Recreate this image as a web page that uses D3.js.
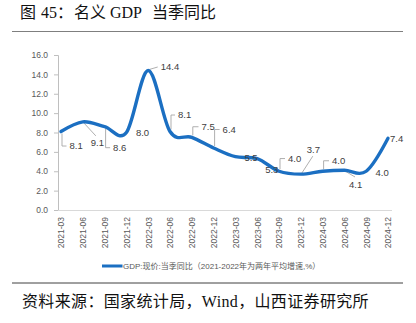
<!doctype html>
<html>
<head>
<meta charset="utf-8">
<title>名义 GDP 当季同比</title>
<script src="https://cdn.jsdelivr.net/npm/d3@7/dist/d3.min.js"></script>
<style>
  html, body { margin: 0; padding: 0; background: #fff; }
  svg { display: block; }
</style>
</head>
<body>
<div id="chart"></div>
<script>
  // quarters on the x axis
  var quarters = ["2021-03", "2021-06", "2021-09", "2021-12",
                  "2022-03", "2022-06", "2022-09", "2022-12",
                  "2023-03", "2023-06", "2023-09", "2023-12",
                  "2024-03", "2024-06", "2024-09", "2024-12"];
  // GDP nominal yoy, %
  var gdpYoY = [8.1, 9.1, 8.6, 8.0, 14.4, 8.1, 7.5, 6.4, 5.5, 5.3, 4.0, 3.7, 4.0, 4.1, 4.0, 7.4];
  var yTicks = [0, 2, 4, 6, 8, 10, 12, 14, 16];

  var titleParts = ["图", "45：", "名义", "GDP", "当季同比"];
  var legendText = "GDP:现价:当季同比（2021-2022年为两年平均增速,%）";
  var sourceText = "资料来源：国家统计局，Wind，山西证券研究所";

  // title pieces are spaced out like the original
  var titleX = [20, 41, 74, 110, 152];

  // where each data label sits relative to its point, and how it is tied back
  var labelLayout = [
    {dx: 8.5, dy: 14.5, leader: "bracket"},
    {dx: 8, dy: 21, leader: "diag", ex: 5, ey: -7},
    {dx: 8.5, dy: 21, leader: "bracket"},
    {dx: 9.5, dy: 0.5, leader: null},
    {dx: 12.5, dy: -3.5, leader: "diag", ex: -3, ey: 0},
    {dx: 8, dy: -16.5, leader: "bracket"},
    {dx: 9.7, dy: -10.6, leader: "bracket"},
    {dx: 9, dy: -18.5, leader: "bracket"},
    {dx: 9, dy: 1, leader: null},
    {dx: 8, dy: 11.5, leader: null},
    {dx: 9, dy: -12.7, leader: "bracket"},
    {dx: 6, dy: -24, leader: "diag", ex: 6, ey: 6},
    {dx: 9.4, dy: -10.5, leader: "bracket"},
    {dx: 4.6, dy: 14.7, leader: "diag", ex: 6, ey: -8},
    {dx: 9.3, dy: 1, leader: null},
    {dx: 2, dy: 0, leader: null}
  ];

  var W = 416, H = 323;
  var svg = d3.select("#chart").append("svg")
      .attr("width", W).attr("height", H);

  var labelFont = "'Liberation Sans Narrow', 'Liberation Sans', Arial, sans-serif";
  var serifCJK = "'Liberation Serif', 'Noto Sans CJK SC', serif";

  // title + rule
  svg.append("text")
      .attr("y", 17.5)
      .style("font-family", serifCJK)
      .style("font-size", "16px")
      .attr("fill", "#111")
    .selectAll("tspan")
      .data(titleParts)
      .join("tspan")
      .attr("x", function(d, i) { return titleX[i]; })
      .text(function(d) { return d; });
  svg.append("line")
      .attr("x1", 12).attr("x2", 403).attr("y1", 31.5).attr("y2", 31.5)
      .attr("stroke", "#7f7f7f").attr("stroke-width", 1.2);

  var x = d3.scalePoint().domain(quarters).range([61, 388]);
  var y = d3.scaleLinear().domain([0, 16]).range([210, 55]);

  // y axis
  var yAxis = svg.append("g")
      .attr("transform", "translate(58,0)")
      .call(d3.axisLeft(y).tickValues(yTicks).tickSize(4).tickPadding(6)
        .tickFormat(d3.format(".1f")));
  yAxis.select(".domain").attr("stroke", "#bfbfbf");
  yAxis.selectAll(".tick line").attr("stroke", "#bfbfbf");
  yAxis.selectAll("text")
      .style("font-family", labelFont).style("font-size", "8.5px")
      .attr("fill", "#595959");

  // x axis
  var xAxis = svg.append("g")
      .attr("transform", "translate(0,210)")
      .call(d3.axisBottom(x).tickSize(0).tickPadding(0));
  xAxis.select(".domain")
      .attr("d", "M58,0.5H392").attr("stroke", "#d9d9d9");
  xAxis.selectAll("text")
      .style("font-family", "'Liberation Sans', Arial, sans-serif").style("font-size", "8.5px")
      .attr("fill", "#595959")
      .attr("text-anchor", "end")
      .attr("dy", "0.35em")
      .attr("transform", "translate(0,7) rotate(-90)")
      .attr("x", 0).attr("y", 0);

  var pts = quarters.map(function(q, i) { return [x(q), y(gdpYoY[i])]; });

  // leader lines
  var leaderG = svg.append("g")
      .attr("stroke", "#a6a6a6").attr("stroke-width", 0.9).attr("fill", "none");
  labelLayout.forEach(function(l, i) {
    if (!l.leader) return;
    var px = pts[i][0], py = pts[i][1];
    var lx = px + l.dx, ly = py + l.dy;
    var path;
    if (l.leader === "bracket") {
      path = [[px + 1, py + (l.dy > 0 ? 2 : -2)], [px + 1, ly], [lx - 3, ly]];
    } else {
      path = [[px + 1, py + (l.ey < 0 ? 1 : -1)], [lx + l.ex, ly + l.ey]];
    }
    leaderG.append("path").attr("d", d3.line()(path));
  });

  // the smoothed line
  var line = d3.line()
      .x(function(d, i) { return x(quarters[i]); })
      .y(function(d) { return y(d); })
      .curve(d3.curveCardinal.tension(0));
  svg.append("path")
      .datum(gdpYoY)
      .attr("d", line)
      .attr("fill", "none")
      .attr("stroke", "#1b6fc2")
      .attr("stroke-width", 3.4)
      .attr("stroke-linecap", "round");

  // data labels
  svg.append("g").selectAll("text")
      .data(gdpYoY)
      .join("text")
      .attr("x", function(d, i) { return pts[i][0] + labelLayout[i].dx; })
      .attr("y", function(d, i) { return pts[i][1] + labelLayout[i].dy; })
      .attr("dy", "0.35em")
      .style("font-family", labelFont).style("font-size", "9.5px")
      .attr("fill", "#404040")
      .text(function(d) { return d3.format(".1f")(d); });

  // legend
  svg.append("line")
      .attr("x1", 102).attr("x2", 122.5).attr("y1", 266).attr("y2", 266)
      .attr("stroke", "#1b6fc2").attr("stroke-width", 3);
  svg.append("text")
      .attr("x", 123).attr("y", 266).attr("dy", "0.35em")
      .style("font-family", "'Liberation Sans', 'Noto Sans CJK SC', sans-serif")
      .style("font-size", "8px")
      .attr("fill", "#595959")
      .text(legendText);

  // bottom rule + source
  svg.append("line")
      .attr("x1", 12).attr("x2", 403).attr("y1", 283).attr("y2", 283)
      .attr("stroke", "#404040").attr("stroke-width", 1);
  svg.append("text")
      .attr("x", 22).attr("y", 307)
      .style("font-family", serifCJK)
      .style("font-size", "16px")
      .style("letter-spacing", "0.35px")
      .attr("fill", "#111")
      .text(sourceText);
</script>
</body>
</html>
